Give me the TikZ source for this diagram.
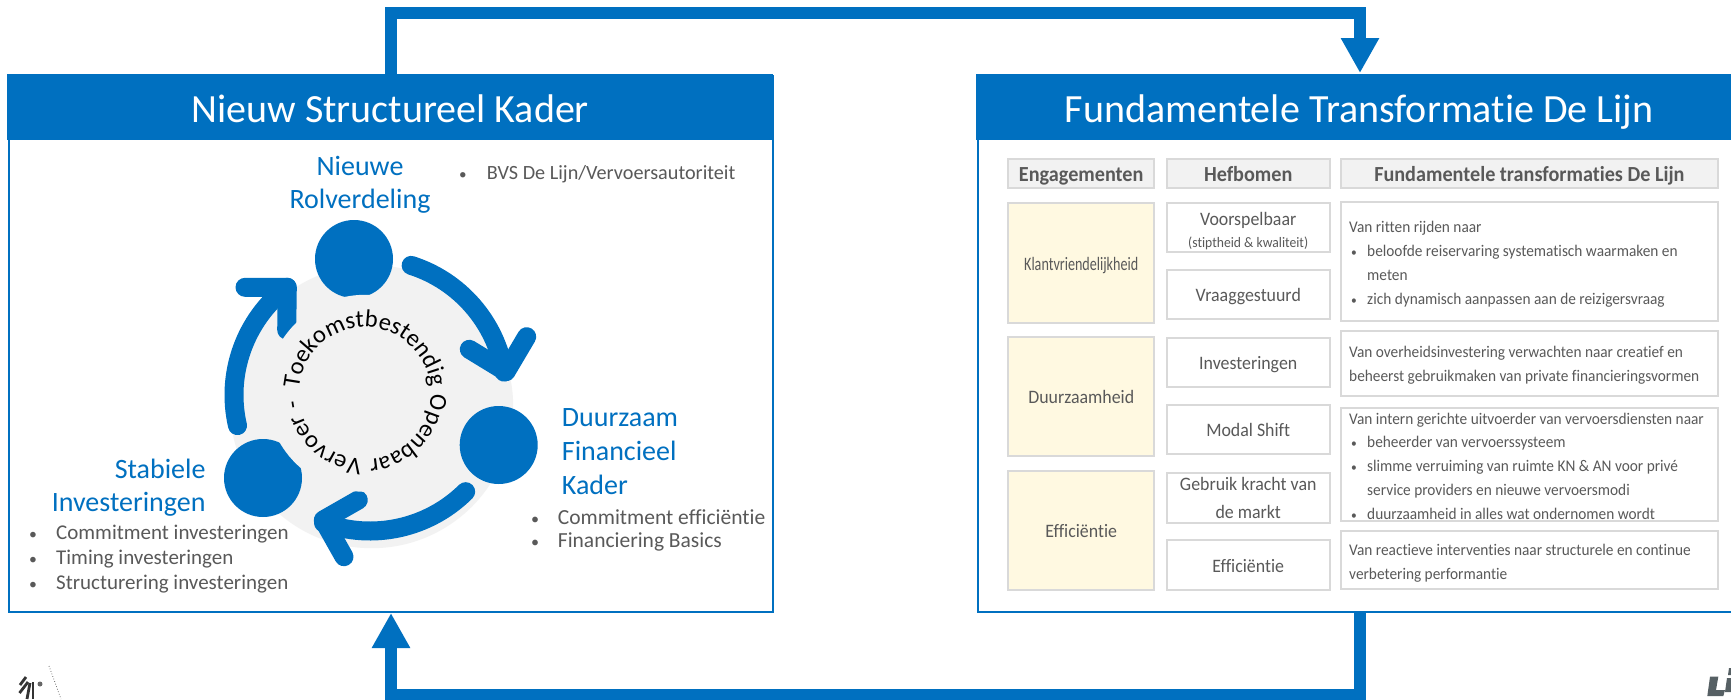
\documentclass[tikz,border=0pt]{standalone}
\usepackage{fontspec}
\setmainfont{Carlito}[Ligatures=NoCommon]
\newfontfamily\tablefont{Carlito}[FakeStretch=0.94, Ligatures=NoCommon]
\usetikzlibrary{arrows.meta,decorations.text}
\definecolor{lijnblue}{HTML}{0070C0}
\definecolor{ringgray}{HTML}{F2F2F2}
\definecolor{boxgray}{HTML}{D9D9D9}
\definecolor{bodygray}{HTML}{595959}
\definecolor{paleyellow}{HTML}{FFF9E1}
\definecolor{logogray}{HTML}{566064}
\newcommand{\bulitem}[2]{\makebox[#1][l]{\scalebox{.75}{\textbullet}}#2}
\tikzset{
        panel/.style={draw=lijnblue, line width=2pt, fill=white, inner sep=0pt},
        panelhead/.style={fill=lijnblue, text=white, inner sep=0pt, text height=31pt, text depth=0pt, font=\fontsize{40}{40}\selectfont},
        looplink/.style={draw=lijnblue, line width=12pt, -{Triangle[length=35pt, width=36pt]}},
        bluedot/.style={circle, fill=lijnblue, inner sep=0pt, minimum size=78pt},
        cyclearrow/.style={draw=lijnblue, line width=19pt, line cap=round, line join=round},
        ringdisc/.style={circle, fill=ringgray, inner sep=0pt},
        bluelabel/.style={text=lijnblue, inner sep=0pt, font=\fontsize{28}{28}\selectfont},
        bulletline/.style={text=bodygray, anchor=base west, inner sep=0pt, font=\fontsize{21}{21}\selectfont},
        tablebox/.style={draw=boxgray, line width=2pt, inner sep=0pt, text=bodygray, align=center, text height=14.5pt, text depth=0pt, font=\tablefont\fontsize{19}{19}\selectfont},
        tablehead/.style={tablebox, fill=ringgray, text height=16pt, font=\tablefont\fontsize{21.5}{21.5}\selectfont\bfseries},
        engbox/.style={tablebox, fill=paleyellow},
        boxline/.style={text=bodygray, anchor=base, inner sep=0pt, font=\tablefont\fontsize{19}{19}\selectfont},
        bodyline/.style={text=bodygray, anchor=base west, inner sep=0pt, font=\tablefont\fontsize{16.3}{16.3}\selectfont}
          }

\begin{document}
\begin{tikzpicture}[x=1pt, y=-1pt]
        \clip (0,0) rectangle (1731,699);
        \fill[white] (0,0) rectangle (1731,699);

        % panels
        \node[panel, anchor=north west, minimum width=764pt, minimum height=536pt] (kader) at (8,75) {};
        \node[panel, anchor=north west, minimum width=780pt, minimum height=536pt] (transf) at (977,75) {};
        \node[panelhead, anchor=north west, minimum width=766pt, minimum height=66pt] (kaderhead) at (7,74) {Nieuw Structureel Kader};
        \node[panelhead, anchor=north west, minimum width=766pt, minimum height=66pt] (transfhead) at (976,74) {Fundamentele Transformatie De Lijn};

        % links between the panels
        \coordinate (topleft) at (391,74);
        \coordinate (topright) at (1360,73);
        \coordinate (botright) at (1360,612);
        \coordinate (botleft) at (391,613);
        \draw[looplink] (topleft) -- (391,13) -- (1360,13) -- (topright);
        \draw[looplink] (botright) -- (1360,695) -- (391,695) -- (botleft);

        % cycle
        \coordinate (hub) at (365,393.3);
        \coordinate (arcmid) at (370,395);
        \node[ringdisc, minimum size=283pt] (outerdisc) at (371.7,406.7) {};
        \node[bluedot] (roldot) at (354,259) {};
        \node[bluedot] (findot) at (498.7,445) {};
        \node[bluedot] (invdot) at (263,478) {};
        \draw[cyclearrow] (arcmid) ++(-72.4:136) arc[start angle=-72.4, end angle=-9.7, radius=136];
        \draw[cyclearrow] (526.7,336.7) -- (506,371.7) -- (469.3,349.3);
        \draw[cyclearrow] (arcmid) ++(45.3:136) arc[start angle=45.3, end angle=110, radius=136];
        \draw[cyclearrow] (358.3,500) -- (323.3,520) -- (344,556.7);
        \draw[cyclearrow] (arcmid) ++(167:136) arc[start angle=167, end angle=232.4, radius=136];
        \draw[cyclearrow] (245,287.3) -- (287.3,287.3) -- (286.7,330);
        \node[ringdisc, minimum size=197pt] (innerdisc) at (hub) {};
        \path[decorate, decoration={text along path, text align={fit to path stretching spaces},
          text={|\fontsize{24.5}{24.5}\selectfont|Toekomstbestendig Openbaar Vervoer -}}]
          (hub) ++(-176:66) arc[start angle=-176, end angle=174, radius=66];

        % labels left
        \node[bluelabel, anchor=base] (rol1) at (360,175) {Nieuwe};
        \node[bluelabel, anchor=base] (rol2) at (360,208) {Rolverdeling};
        \node[bluelabel, anchor=base west] (fin1) at (561.7,426) {Duurzaam};
        \node[bluelabel, anchor=base west] (fin2) at (561.7,460.7) {Financieel};
        \node[bluelabel, anchor=base west] (fin3) at (561.7,494.7) {Kader};
        \node[bluelabel, anchor=base east] (inv1) at (205.7,478) {Stabiele};
        \node[bluelabel, anchor=base east] (inv2) at (205.7,511) {Investeringen};
        \node[bulletline, font=\fontsize{20.2}{20.2}\selectfont] (bvs) at (459,179) {\bulitem{27.7pt}{BVS De Lijn/Vervoersautoriteit}};
        \node[bulletline, font=\fontsize{21.5}{21.5}\selectfont] (eff1) at (531,524) {\bulitem{26.7pt}{Commitment efficiëntie}};
        \node[bulletline, font=\fontsize{21.5}{21.5}\selectfont] (eff2) at (531,547.7) {\bulitem{26.7pt}{Financiering Basics}};
        \node[bulletline] (str1) at (29,539) {\bulitem{27pt}{Commitment investeringen}};
        \node[bulletline] (str2) at (29,564) {\bulitem{27pt}{Timing investeringen}};
        \node[bulletline] (str3) at (29,589) {\bulitem{27pt}{Structurering investeringen}};

        % table
        \node[tablehead, minimum width=146pt, minimum height=29pt] (enghead) at (1081.2,173.8) {Engagementen};
        \node[tablehead, minimum width=163pt, minimum height=29pt] (hefhead) at (1248.2,173.8) {Hefbomen};
        \node[tablehead, minimum width=377pt, minimum height=29pt] (fundhead) at (1529.4,173.8) {Fundamentele transformaties De Lijn};
        \node[engbox, minimum width=146pt, minimum height=120pt] (klant) at (1081.2,263) {\scalebox{.79}[1]{Klantvriendelijkheid}};
        \node[engbox, minimum width=146pt, minimum height=119pt] (duur) at (1081.2,396.7) {Duurzaamheid};
        \node[engbox, minimum width=146pt, minimum height=119pt] (effic) at (1081.2,530) {Efficiëntie};
        \node[tablebox, minimum width=163pt, minimum height=49pt] (voor) at (1248.2,227.3) {};
        \node[boxline] (voor1) at (1248.2,225) {Voorspelbaar};
        \node[boxline, font=\tablefont\fontsize{14.5}{14.5}\selectfont] (voor2) at (1248.2,247.3) {(stiptheid \& kwaliteit)};
        \node[tablebox, minimum width=163pt, minimum height=49pt] (vraag) at (1248.2,294.7) {Vraaggestuurd};
        \node[tablebox, minimum width=163pt, minimum height=49pt] (inves) at (1248.2,362) {Investeringen};
        \node[tablebox, minimum width=163pt, minimum height=49pt] (modal) at (1248.2,429.7) {Modal Shift};
        \node[tablebox, minimum width=163pt, minimum height=50pt] (markt) at (1248.2,497.5) {};
        \node[boxline] (markt1) at (1248.2,490.7) {Gebruik kracht van};
        \node[boxline] (markt2) at (1248.2,518.3) {de markt};
        \node[tablebox, minimum width=163pt, minimum height=50pt] (effhef) at (1248.2,565) {Efficiëntie};
        \node[tablebox, minimum width=377pt, minimum height=119pt] (fund1) at (1529.4,261.7) {};
        \node[tablebox, minimum width=377pt, minimum height=65pt] (fund2) at (1529.4,363.3) {};
        \node[tablebox, minimum width=377pt, minimum height=113pt] (fund3) at (1529.4,464.8) {};
        \node[tablebox, minimum width=377pt, minimum height=58pt] (fund4) at (1529.4,560) {};
        \node[bodyline] (f1a) at (1349,232.7) {Van ritten rijden naar};
        \node[bodyline] (f1b) at (1351,256.7) {\bulitem{16pt}{beloofde reiservaring systematisch waarmaken en}};
        \node[bodyline] (f1c) at (1367,280) {meten};
        \node[bodyline] (f1d) at (1351,304) {\bulitem{16pt}{zich dynamisch aanpassen aan de reizigersvraag}};
        \node[bodyline] (f2a) at (1349,357.3) {Van overheidsinvestering verwachten naar creatief en};
        \node[bodyline] (f2b) at (1349,381.7) {beheerst gebruikmaken van private financieringsvormen};
        \node[bodyline] (f3a) at (1349,424) {Van intern gerichte uitvoerder van vervoersdiensten naar};
        \node[bodyline] (f3b) at (1351,447.7) {\bulitem{16pt}{beheerder van vervoerssysteem}};
        \node[bodyline] (f3c) at (1351,471.7) {\bulitem{16pt}{slimme verruiming van ruimte KN \& AN voor privé}};
        \node[bodyline] (f3d) at (1367,495.3) {service providers en nieuwe vervoersmodi};
        \node[bodyline] (f3e) at (1351,519) {\bulitem{16pt}{duurzaamheid in alles wat ondernomen wordt}};
        \node[bodyline] (f4a) at (1349,555) {Van reactieve interventies naar structurele en continue};
        \node[bodyline] (f4b) at (1349,579) {verbetering performantie};

        % logos, cut off by the page
        \draw[black!80, line width=2.8pt] (20,685) -- (26,677);
        \draw[black!80, line width=2.8pt] (19.5,693) -- (28,682);
        \draw[black!80, line width=2.8pt] (27,699) -- (30,683);
        \draw[black!80, line width=2.8pt] (33,699) -- (33,682);
        \fill[black!60] (40,684) circle (2.5pt);
        \draw[black!70, line width=.7pt, dotted] (49,666) -- (61,699);
        \fill[logogray] (1710,676.7) -- (1718.3,676.7) -- (1716,690) -- (1725,690) -- (1723.3,696) -- (1707.3,696) -- cycle;
        \fill[logogray] (1727,678) -- (1731,678) -- (1731,692) -- (1725,692) -- cycle;
        \fill[logogray] (1729,668) -- (1731,668) -- (1731,675) -- (1728,675) -- cycle;
      \end{tikzpicture}
\end{document}
